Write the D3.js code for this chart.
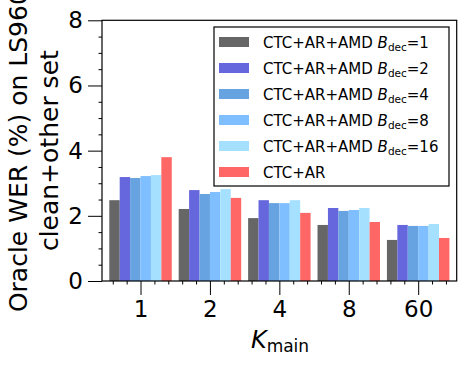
<!DOCTYPE html>
<html>
<head>
<meta charset="utf-8">
<script src="https://cdn.jsdelivr.net/npm/d3@7"></script>
<style>
  body { margin: 0; background: #fff; }
  svg { font-family: "DejaVu Sans", sans-serif; }
</style>
</head>
<body>
<svg id="chart" width="466" height="366"></svg>
<script>
// data
var kLabels = ["1", "2", "4", "8", "60"];
var bdec1  = [2.48, 2.21, 1.93, 1.72, 1.26];
var bdec2  = [3.19, 2.79, 2.48, 2.24, 1.72];
var bdec4  = [3.16, 2.67, 2.39, 2.15, 1.69];
var bdec8  = [3.22, 2.73, 2.39, 2.18, 1.69];
var bdec16 = [3.25, 2.82, 2.48, 2.24, 1.75];
var ctcAr  = [3.80, 2.55, 2.09, 1.81, 1.32];
var seriesNames = ["1", "2", "4", "8", "16", null];
var yTicks = [0, 2, 4, 6, 8];

(function() {
var series = [bdec1, bdec2, bdec4, bdec8, bdec16, ctcAr];
var colors = ["#666666", "#6666dd", "#66a3e0", "#80bfff", "#a6e0ff", "#ff6666"];
var barW = 0.15;

var svg = d3.select("#chart");
var pLeft = 102, pRight = 456.7, pTop = 20.3, pBottom = 281;

var x = d3.scaleLinear().domain([-0.555, 4.555]).range([pLeft, pRight]);
var y = d3.scaleLinear().domain([0, 8]).range([pBottom, pTop]);

// bars
series.forEach(function(vals, j) {
	svg.append("g").selectAll("rect")
		.data(vals)
		.enter().append("rect")
		.attr("x", function(d, i) { return x(i + (j - 2.5) * barW - barW / 2); })
		.attr("width", x(barW) - x(0))
		.attr("y", function(d) { return y(d); })
		.attr("height", function(d) { return y(0) - y(d); })
		.attr("fill", colors[j]);
});

// y axis major + minor
var yMinor = d3.range(0, 8.01, 0.5).filter(function(v) { return v % 2 !== 0; });
svg.append("g")
	.attr("transform", "translate(" + pLeft + ",0)")
	.call(d3.axisLeft(y).tickValues(yMinor).tickSize(3.5).tickFormat(""))
	.call(function(g) { g.select(".domain").remove(); });
var yAx = svg.append("g")
	.attr("transform", "translate(" + pLeft + ",0)")
	.call(d3.axisLeft(y).tickValues(yTicks).tickSize(14).tickPadding(5).tickFormat(d3.format("d")));
yAx.select(".domain").remove();
yAx.selectAll("text").attr("font-size", "23px").attr("fill", "#000").attr("font-family", "DejaVu Sans");

// x axis major + minor
var xMinor = d3.range(-0.4, 4.41, 0.2).filter(function(v) { return Math.abs(v - Math.round(v)) > 0.01; });
svg.append("g")
	.attr("transform", "translate(0," + pBottom + ")")
	.call(d3.axisBottom(x).tickValues(xMinor).tickSize(3.5).tickFormat(""))
	.call(function(g) { g.select(".domain").remove(); });
var xAx = svg.append("g")
	.attr("transform", "translate(0," + pBottom + ")")
	.call(d3.axisBottom(x).tickValues(d3.range(kLabels.length)).tickSize(14).tickPadding(6)
		.tickFormat(function(d) { return kLabels[d]; }));
xAx.select(".domain").remove();
xAx.selectAll("text").attr("font-size", "23px").attr("fill", "#000").attr("font-family", "DejaVu Sans");

// frame
svg.append("rect")
	.attr("x", pLeft).attr("y", pTop)
	.attr("width", pRight - pLeft).attr("height", pBottom - pTop)
	.attr("fill", "none").attr("stroke", "#000").attr("stroke-width", 1.2);

// axis labels
var yl = svg.append("text")
	.attr("transform", "translate(0," + ((pTop + pBottom) / 2) + ") rotate(-90)")
	.attr("text-anchor", "middle")
	.attr("font-size", "25px");
yl.append("tspan").attr("x", 0).attr("y", 27).text("Oracle WER (%) on LS960");
yl.append("tspan").attr("x", 0).attr("y", 58).text("clean+other set");

var xl = svg.append("text")
	.attr("x", 280).attr("y", 348)
	.attr("text-anchor", "middle")
	.attr("font-size", "24px");
xl.append("tspan").attr("font-style", "italic").text("K");
xl.append("tspan").attr("font-size", "17px").attr("dy", 4).text("main");

// legend
var lg = svg.append("g");
lg.append("rect")
	.attr("x", 214).attr("y", 27).attr("width", 235).attr("height", 159)
	.attr("fill", "#fff").attr("stroke", "#000").attr("stroke-width", 1.2);
seriesNames.forEach(function(name, j) {
	var cy = 42 + j * 26;
	lg.append("rect")
		.attr("x", 219).attr("y", cy - 5).attr("width", 30).attr("height", 10)
		.attr("fill", colors[j]);
	var t = lg.append("text").attr("x", 263).attr("y", cy + 5.5).attr("font-size", "15px");
	if (name === null) {
		t.text("CTC+AR");
	} else {
		t.append("tspan").text("CTC+AR+AMD ");
		t.append("tspan").attr("font-style", "italic").text("B");
		t.append("tspan").attr("font-size", "10.5px").attr("dy", 3).text("dec");
		t.append("tspan").attr("dy", -3).text("=" + name);
	}
});
})();
</script>
</body>
</html>
